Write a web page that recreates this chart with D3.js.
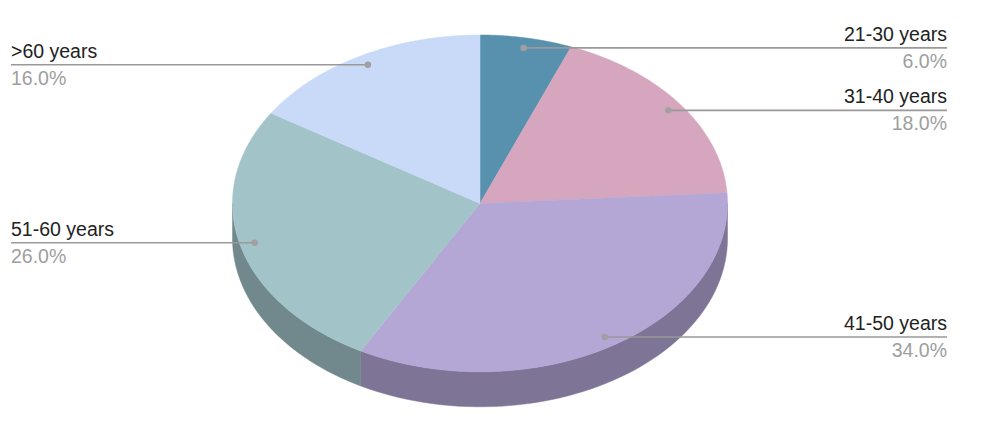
<!DOCTYPE html>
<html><head><meta charset="utf-8">
<script src="https://cdn.jsdelivr.net/npm/d3@7"></script>
<style>body{margin:0;background:#fff}svg{display:block;font-family:"Liberation Sans",Arial,sans-serif}</style>
</head><body><svg id="c" width="988" height="427"></svg>
<script>
const categories = ["21-30 years","31-40 years","41-50 years","51-60 years",">60 years"];
const values = [6,18,34,26,16];
const colors = ["#5891ad","#d5a6bd","#b4a7d6","#a2c4c9","#c9daf8"];

const W=988,H=427, cx=480, cy=203.4, rx=247.5, ry=168.4, depth=35;
const svg=d3.select("#c");
const total=d3.sum(values);
const pie=d3.pie().sort(null).value(d=>d)(values);
const pt=(a,f=1,dy=0)=>[cx+rx*f*Math.sin(a), cy-ry*f*Math.cos(a)+dy];
const darker=c=>{const r=d3.rgb(c);return d3.rgb(r.r*0.7,r.g*0.7,r.b*0.7).formatHex();};

// side walls
const gs=svg.append("g");
pie.forEach((s,i)=>{
  const a0=Math.max(s.startAngle,Math.PI/2), a1=Math.min(s.endAngle,3*Math.PI/2);
  if(a1<=a0) return;
  const n=60, top=[], bot=[];
  for(let k=0;k<=n;k++){const a=a0+(a1-a0)*k/n; top.push(pt(a)); bot.push(pt(a,1,depth));}
  const p=top.concat(bot.reverse());
  gs.append("path").attr("d","M"+p.map(q=>q.join(",")).join("L")+"Z")
    .attr("fill",darker(colors[i])).attr("stroke",darker(colors[i])).attr("stroke-width",0.5);
});
// top faces
const gt=svg.append("g");
pie.forEach((s,i)=>{
  const n=Math.max(8,Math.ceil((s.endAngle-s.startAngle)*60)), p=[[cx,cy]];
  for(let k=0;k<=n;k++){p.push(pt(s.startAngle+(s.endAngle-s.startAngle)*k/n));}
  gt.append("path").attr("d","M"+p.map(q=>q.join(",")).join("L")+"Z")
    .attr("fill",colors[i]).attr("stroke",colors[i]).attr("stroke-width",0.5);
});
// labels
const gl=svg.append("g");
const fmt=d3.format(".1f");
pie.forEach((s,i)=>{
  const mid=(s.startAngle+s.endAngle)/2;
  const [dx,dy]=pt(mid,0.94);
  const right=Math.sin(mid)>=0;
  const xEnd=right?947:11;
  gl.append("line").attr("x1",dx).attr("y1",dy).attr("x2",xEnd).attr("y2",dy)
    .attr("stroke","#999").attr("stroke-width",1.6);
  gl.append("circle").attr("cx",dx).attr("cy",dy).attr("r",3.2).attr("fill","#a0a0a0");
  gl.append("text").attr("x",xEnd).attr("y",dy-7).attr("text-anchor",right?"end":"start")
    .attr("font-size",19.5).attr("fill","#222").text(categories[i]);
  gl.append("text").attr("x",xEnd).attr("y",dy+20).attr("text-anchor",right?"end":"start")
    .attr("font-size",19.5).attr("fill","#9e9e9e").text(fmt(values[i]/total*100)+"%");
});
</script></body></html>
